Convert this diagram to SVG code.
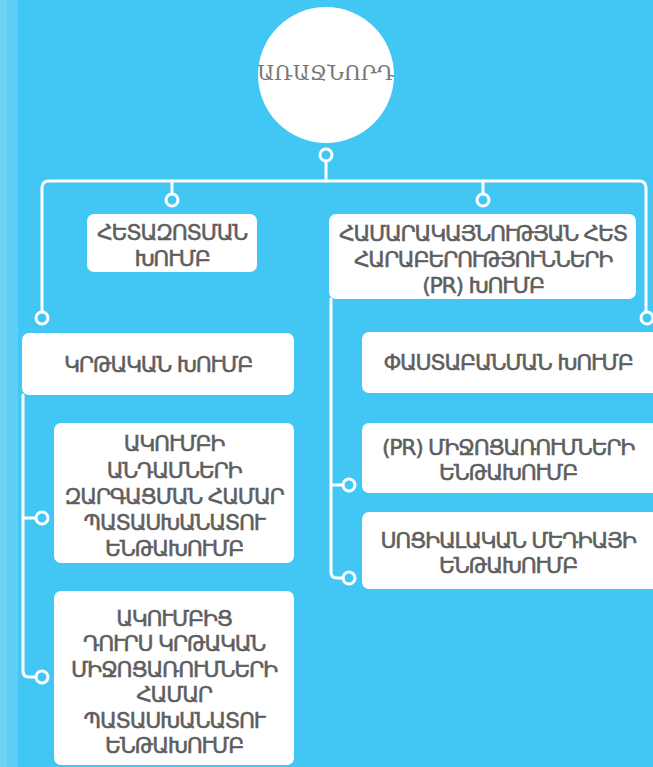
<svg xmlns="http://www.w3.org/2000/svg" width="653" height="767" viewBox="0 0 653 767">
<style>
.box{fill:#ffffff}
.t{font-family:"DejaVu Sans",sans-serif;font-size:22px;font-weight:normal;letter-spacing:-1.3px;fill:#5e5e5e;stroke:#5e5e5e;stroke-width:0.5px;text-anchor:middle;dominant-baseline:central}
.c{fill:none;stroke:#ffffff;stroke-width:3;stroke-linejoin:round;stroke-linecap:round}
</style>
<rect x="0" y="0" width="653" height="767" fill="#42C7F4"/>
<rect x="0" y="0" width="18" height="767" fill="#5ECEF6"/>
<rect x="0" y="0" width="7" height="767" fill="#6DD4F7"/>
<g id="connectors" class="c">
<path d="M326 161 V181"/>
<path d="M42 312 V188 Q42 181 49 181 H639 Q646 181 646 188 V312"/>
<path d="M172 181 V194"/>
<path d="M483 181 V194"/>
<circle cx="326" cy="155" r="6"/>
<circle cx="172" cy="200" r="6"/>
<circle cx="483" cy="200" r="6"/>
<circle cx="42" cy="318" r="6"/>
<circle cx="647" cy="318" r="6"/>
<path d="M23 395 V671 Q23 677 29 677 H36"/>
<path d="M23 518 H36"/>
<circle cx="42" cy="518" r="6"/>
<circle cx="42" cy="677" r="6"/>
<path d="M331 299 V572 Q331 578 337 578 H343"/>
<path d="M331 485 H343"/>
<circle cx="349" cy="485" r="6"/>
<circle cx="349" cy="578" r="6"/>
</g>
<g id="leader">
<circle cx="326" cy="75" r="68" fill="#ffffff"/>
<text x="326" y="73" style="font-family:'DejaVu Serif',serif;font-size:21px;fill:#777777;text-anchor:middle;dominant-baseline:central">ԱՌԱՋՆՈՐԴ</text>
</g>
<g id="research">
<rect class="box" x="87" y="214" width="170" height="58" rx="7"/>
<text class="t" x="172" y="232">ՀԵՏԱԶՈՏՄԱՆ</text>
<text class="t" x="172" y="258">ԽՈՒՄԲ</text>
</g>
<g id="pr">
<rect class="box" x="329" y="214" width="307" height="85" rx="7"/>
<text class="t" x="483" y="233">ՀԱՄԱՐԱԿԱՅՆՈՒԹՅԱՆ ՀԵՏ</text>
<text class="t" x="483" y="259">ՀԱՐԱԲԵՐՈՒԹՅՈՒՆՆԵՐԻ</text>
<text class="t" x="483" y="285">(PR) ԽՈՒՄԲ</text>
</g>
<g id="education">
<rect class="box" x="22" y="333" width="272" height="62" rx="7"/>
<text class="t" x="158" y="364">ԿՐԹԱԿԱՆ ԽՈՒՄԲ</text>
</g>
<g id="advocacy">
<rect class="box" x="362" y="332" width="300" height="61" rx="7"/>
<text class="t" x="508" y="362">ՓԱՍՏԱԲԱՆՄԱՆ ԽՈՒՄԲ</text>
</g>
<g id="member-dev">
<rect class="box" x="54" y="423" width="240" height="140" rx="7"/>
<text class="t" x="174" y="443">ԱԿՈՒՄԲԻ</text>
<text class="t" x="174" y="470">ԱՆԴԱՄՆԵՐԻ</text>
<text class="t" x="174" y="496">ԶԱՐԳԱՑՄԱՆ ՀԱՄԱՐ</text>
<text class="t" x="174" y="522">ՊԱՏԱՍԽԱՆԱՏՈՒ</text>
<text class="t" x="174" y="548">ԵՆԹԱԽՈՒՄԲ</text>
</g>
<g id="outside-edu">
<rect class="box" x="54" y="591" width="240" height="174" rx="7"/>
<text class="t" x="174" y="618">ԱԿՈՒՄԲԻՑ</text>
<text class="t" x="174" y="643">ԴՈՒՐՍ ԿՐԹԱԿԱՆ</text>
<text class="t" x="174" y="669">ՄԻՋՈՑԱՌՈՒՄՆԵՐԻ</text>
<text class="t" x="174" y="694">ՀԱՄԱՐ</text>
<text class="t" x="174" y="720">ՊԱՏԱՍԽԱՆԱՏՈՒ</text>
<text class="t" x="174" y="745">ԵՆԹԱԽՈՒՄԲ</text>
</g>
<g id="pr-events">
<rect class="box" x="362" y="423" width="300" height="70" rx="7"/>
<text class="t" x="508" y="447">(PR) ՄԻՋՈՑԱՌՈՒՄՆԵՐԻ</text>
<text class="t" x="508" y="472">ԵՆԹԱԽՈՒՄԲ</text>
</g>
<g id="social-media">
<rect class="box" x="362" y="512" width="300" height="77" rx="7"/>
<text class="t" x="508" y="540">ՍՈՑԻԱԼԱԿԱՆ ՄԵԴԻԱՅԻ</text>
<text class="t" x="508" y="565">ԵՆԹԱԽՈՒՄԲ</text>
</g>
</svg>
